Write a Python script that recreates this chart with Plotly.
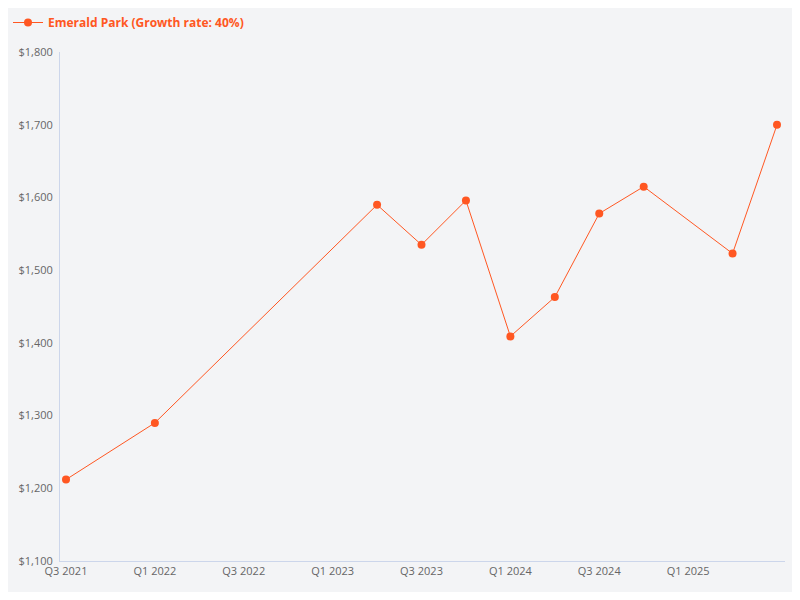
import plotly.graph_objects as go

quarters = [0, 2, 7, 8, 9, 10, 11, 12, 13, 15, 16]  # quarter index from Q3 2021
values = [1212, 1290, 1590, 1535, 1596, 1409, 1463, 1578, 1615, 1523, 1700]
tick_vals = [0, 2, 4, 6, 8, 10, 12, 14, 16]
tick_text = ["Q3 2021", "Q1 2022", "Q3 2022", "Q1 2023", "Q3 2023", "Q1 2024", "Q3 2024", "Q1 2025", "Q3 2025"]
y_ticks = [1100, 1200, 1300, 1400, 1500, 1600, 1700, 1800]

c = "#ff5722"
fig = go.Figure(go.Scatter(x=quarters, y=values, mode="lines+markers",
    name="Emerald Park (Growth rate: 40%)",
    line=dict(color=c, width=1), marker=dict(color=c, size=8)))
fig.update_layout(
    width=784, height=584, paper_bgcolor="#f3f4f6", plot_bgcolor="#f3f4f6",
    margin=dict(l=52, r=7, t=42, b=31),
    font=dict(family="Open Sans", color="#666", size=11),
    showlegend=True,
    legend=dict(orientation="h", x=0, y=1, xref="container", yref="container", xanchor="left", yanchor="top",
                font=dict(color=c, size=12, family="Open Sans", weight="bold"), bgcolor="rgba(0,0,0,0)"),
    xaxis=dict(range=[-0.135, 16.18], tickvals=tick_vals, ticktext=tick_text, showgrid=False,
               showline=True, linecolor="#ccd6eb", zeroline=False, ticks="", ticklen=0),
    yaxis=dict(range=[1100, 1800], tickvals=y_ticks, tickformat="$,.0f", showgrid=False,
               showline=True, linecolor="#ccd6eb", zeroline=False, ticklabelstandoff=4),
)
fig.write_html("out.html")
